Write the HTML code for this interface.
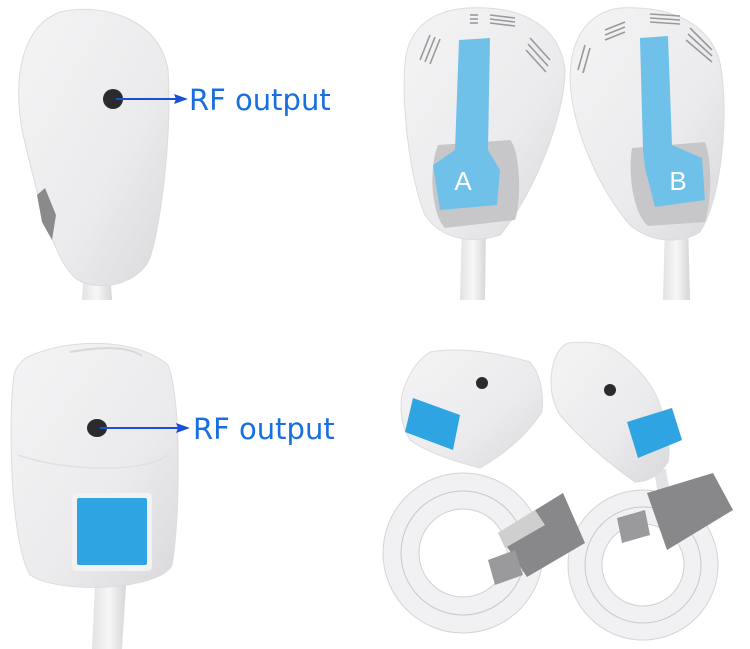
<!DOCTYPE html>
<html><head><meta charset="utf-8"><style>
html,body{margin:0;padding:0;background:#fff;width:750px;height:649px;overflow:hidden}
svg{display:block}
</style></head><body>
<svg width="750" height="649" viewBox="0 0 750 649" xmlns="http://www.w3.org/2000/svg">
<defs>
<linearGradient id="w" x1="0" y1="0" x2="1" y2="1">
<stop offset="0" stop-color="#f4f4f5"/><stop offset="0.6" stop-color="#ebebed"/><stop offset="1" stop-color="#d9d9dc"/>
</linearGradient>
<linearGradient id="c" x1="0" y1="0" x2="1" y2="0">
<stop offset="0" stop-color="#e2e2e4"/><stop offset="0.5" stop-color="#f7f7f7"/><stop offset="1" stop-color="#d6d6d8"/>
</linearGradient>
</defs>
<rect width="750" height="649" fill="#fff"/>

<!-- top-left handle -->
<path d="M84 270 L82 300 L112 300 L110 270 Z" fill="url(#c)"/>
<path d="M60 12 C105 2 160 20 168 70 C172 130 162 220 150 258 C138 285 100 292 78 280 C55 265 38 200 22 130 C12 70 25 25 60 12 Z" fill="url(#w)" stroke="#dcdcde"/>
<path d="M37 195 L45 188 L56 215 L52 240 L42 222 Z" fill="#8a8a8c"/>
<ellipse cx="113" cy="99" rx="10" ry="10" fill="#2b2b2d"/>
<line x1="116" y1="99" x2="176" y2="99" stroke="#1a4fd8" stroke-width="2"/>
<path d="M188 99 L174 94 L176 99 L174 104 Z" fill="#1a4fd8"/>
<text x="189" y="110" font-family="DejaVu Sans, sans-serif" font-size="29" fill="#1a6fe0">RF output</text>

<!-- bottom-left handle -->
<path d="M95 585 L92 649 L122 649 L126 585 Z" fill="url(#c)"/>
<path d="M40 352 C80 338 140 340 168 365 C182 400 180 520 172 565 C160 590 60 595 30 575 C10 540 8 420 14 375 C18 360 28 356 40 352 Z" fill="url(#w)" stroke="#dcdcde"/>
<path d="M70 352 C110 345 130 348 142 356" stroke="#d8d8da" stroke-width="2" fill="none"/>
<path d="M18 455 C60 470 140 475 168 455" stroke="#e0e0e2" stroke-width="1.5" fill="none"/>
<rect x="72" y="493" width="80" height="78" rx="4" fill="#f2f2f3"/>
<rect x="77" y="498" width="70" height="67" rx="2" fill="#2ea4e2"/>
<ellipse cx="97" cy="428" rx="10" ry="9" fill="#2b2b2d"/>
<line x1="100" y1="428" x2="178" y2="428" stroke="#1a4fd8" stroke-width="2"/>
<path d="M190 428 L176 423 L178 428 L176 433 Z" fill="#1a4fd8"/>
<text x="193" y="439" font-family="DejaVu Sans, sans-serif" font-size="29" fill="#1a6fe0">RF output</text>

<!-- top-right A -->
<path d="M462 222 L460 300 L485 300 L486 222 Z" fill="url(#c)"/>
<path d="M468 8 C520 5 560 25 565 70 C565 120 530 200 500 235 C470 245 440 238 425 215 C410 180 400 100 406 55 C412 25 435 10 468 8 Z" fill="url(#w)" stroke="#dcdcde"/>
<g stroke="#9a9a9c" stroke-width="1.6">
<line x1="470" y1="15" x2="478" y2="15"/><line x1="470" y1="19" x2="478" y2="19"/><line x1="470" y1="23" x2="478" y2="23"/>
<line x1="490" y1="15" x2="515" y2="18"/><line x1="490" y1="19" x2="515" y2="22"/><line x1="490" y1="23" x2="515" y2="26"/>
<line x1="430" y1="35" x2="420" y2="60"/><line x1="435" y1="37" x2="425" y2="62"/><line x1="440" y1="39" x2="430" y2="64"/>
<line x1="530" y1="38" x2="550" y2="60"/><line x1="528" y1="44" x2="548" y2="66"/><line x1="526" y1="50" x2="546" y2="72"/>
</g>
<path d="M438 145 L510 140 C520 150 522 200 515 220 L445 228 C432 215 428 170 438 145 Z" fill="#c7c7c9"/>
<path d="M459 40 L490 38 L488 150 L500 170 L497 205 L440 210 L433 165 L455 150 Z" fill="#6fc1ea"/>
<text x="463" y="190" font-family="Liberation Sans, sans-serif" font-size="26" fill="#fff" text-anchor="middle">A</text>

<!-- top-right B -->
<path d="M665 222 L663 300 L690 300 L688 222 Z" fill="url(#c)"/>
<path d="M620 8 C680 5 718 30 722 75 C728 130 720 200 700 232 C680 245 650 242 630 225 C600 190 572 130 570 80 C570 35 590 12 620 8 Z" fill="url(#w)" stroke="#dcdcde"/>
<g stroke="#9a9a9c" stroke-width="1.6">
<line x1="605" y1="30" x2="625" y2="22"/><line x1="605" y1="35" x2="625" y2="27"/><line x1="605" y1="40" x2="625" y2="32"/>
<line x1="650" y1="14" x2="680" y2="16"/><line x1="650" y1="18" x2="680" y2="20"/><line x1="650" y1="22" x2="680" y2="24"/>
<line x1="690" y1="28" x2="712" y2="50"/><line x1="688" y1="34" x2="712" y2="56"/><line x1="686" y1="40" x2="712" y2="62"/>
<line x1="585" y1="45" x2="578" y2="70"/><line x1="590" y1="48" x2="583" y2="73"/>
</g>
<path d="M632 148 L705 142 C712 160 712 200 705 222 L648 226 C632 212 628 170 632 148 Z" fill="#c7c7c9"/>
<path d="M640 38 L668 36 L672 145 L702 158 L705 200 L655 207 L645 168 L643 150 Z" fill="#6fc1ea"/>
<text x="678" y="190" font-family="Liberation Sans, sans-serif" font-size="26" fill="#fff" text-anchor="middle">B</text>

<!-- bottom-right coils -->
<circle cx="463" cy="553" r="62" fill="none" stroke="#f1f1f3" stroke-width="36"/>
<circle cx="463" cy="553" r="62" fill="none" stroke="#c8c8ca" stroke-width="1"/>
<circle cx="463" cy="553" r="44" fill="none" stroke="#d0d0d2" stroke-width="1"/>
<circle cx="463" cy="553" r="80" fill="none" stroke="#d4d4d6" stroke-width="1"/>
<circle cx="643" cy="565" r="58" fill="none" stroke="#f1f1f3" stroke-width="34"/>
<circle cx="643" cy="565" r="58" fill="none" stroke="#c8c8ca" stroke-width="1"/>
<circle cx="643" cy="565" r="41" fill="none" stroke="#d0d0d2" stroke-width="1"/>
<circle cx="643" cy="565" r="75" fill="none" stroke="#d4d4d6" stroke-width="1"/>
<path d="M660 470 L665 500" stroke="#e3e3e5" stroke-width="12"/>
<!-- handles -->
<path d="M430 352 Q470 345 530 362 Q545 380 542 412 Q520 445 480 468 Q430 455 410 440 Q398 420 402 395 Q410 365 430 352 Z" fill="url(#w)" stroke="#dcdcde"/>
<ellipse cx="482" cy="383" rx="6" ry="6" fill="#2b2b2d"/>
<path d="M413 398 L460 415 L453 450 L405 432 Z" fill="#2ea4e2"/>
<path d="M568 343 Q600 340 615 350 Q650 375 660 405 Q672 440 668 462 Q655 482 635 482 Q590 450 560 415 Q548 395 552 370 Q556 348 568 343 Z" fill="url(#w)" stroke="#dcdcde"/>
<ellipse cx="610" cy="390" rx="6" ry="6" fill="#2b2b2d"/>
<path d="M627 422 L672 408 L682 440 L638 458 Z" fill="#2ea4e2"/>
<!-- connectors -->
<path d="M498 533 L563 493 L585 543 L527 577 Z" fill="#88888a"/>
<path d="M498 533 L535 510 L545 525 L505 548 Z" fill="#cfcfd0"/>
<path d="M488 560 L515 550 L523 575 L495 585 Z" fill="#9a9a9c"/>
<path d="M647 493 L713 473 L733 510 L667 550 Z" fill="#88888a"/>
<path d="M617 518 L645 510 L650 535 L622 543 Z" fill="#9a9a9c"/>
</svg>
</body></html>
